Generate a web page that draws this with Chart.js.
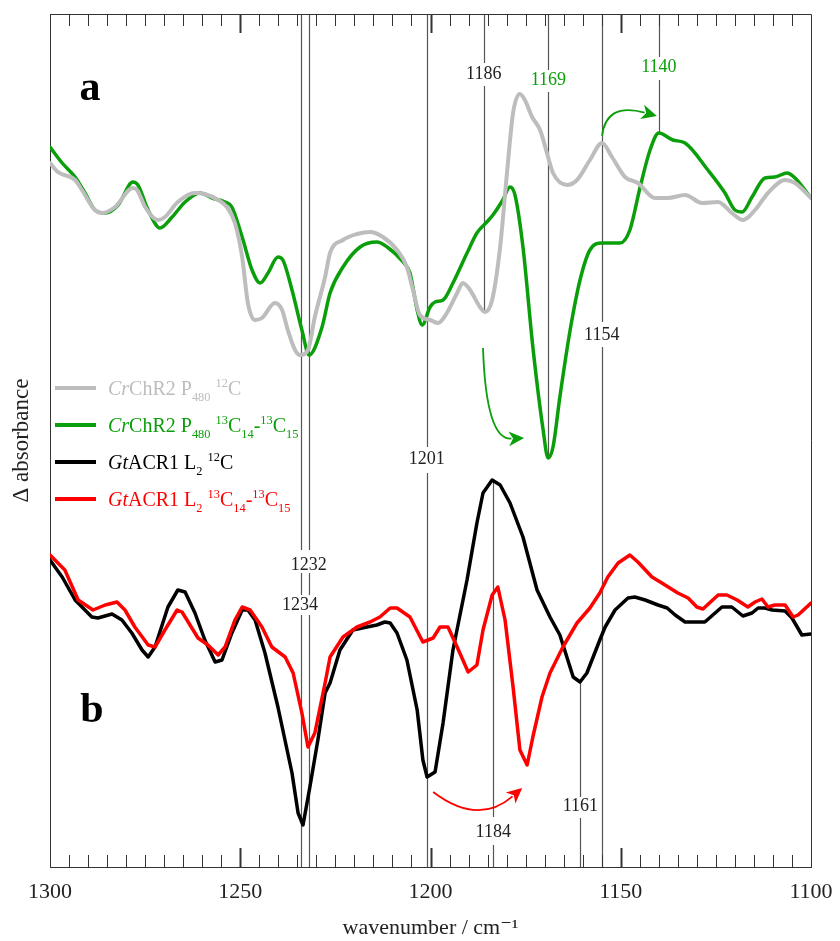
<!DOCTYPE html>
<html>
<head>
<meta charset="utf-8">
<script src="https://cdn.jsdelivr.net/npm/chart.js@4.4.1/dist/chart.umd.min.js"></script>
<style>
  html, body { margin: 0; padding: 0; background: #fff; }
</style>
</head>
<body>
<canvas id="espectro" width="840" height="941"></canvas>
<script>
// Espectros (número de onda en cm-1, absorbancia en unidades arbitrarias)
const grisWn = [1300,1297.9,1293.4,1291.6,1288.2,1286.3,1282.9,1278.2,1277.1,1275.0,1271.6,1269.8,1266.4,1261.9,1259.3,1255.8,1253.5,1251.4,1249.5,1248.0,1246.1,1244.3,1240.9,1239.0,1237.5,1235.6,1234.3,1232.2,1230.4,1227.7,1226.4,1223.0,1219.3,1215.9,1212.5,1208.8,1206.2,1204.6,1202.8,1200.1,1198.0,1195.7,1193.0,1191.5,1189.6,1187.0,1185.7,1183.8,1181.7,1179.9,1178.3,1176.5,1175.2,1173.3,1171.2,1169.4,1167.8,1164.1,1161.5,1158.1,1154.9,1152.3,1148.9,1145.5,1141.0,1137.6,1133.1,1128.6,1124.4,1120.8,1117.9,1114.7,1111.3,1106.8,1104.2,1100];
const grisAbs = [70.4,69.5,68.7,67.7,65.7,65.4,66.0,67.9,67.7,66.0,64.7,65.0,66.5,67.4,67.3,66.7,66.0,64.4,61.0,56.4,54.7,54.9,56.4,55.7,53.7,51.7,51.2,51.7,55.0,59.0,61.4,62.7,63.3,63.5,63.0,61.7,60.0,57.7,55.2,54.7,54.4,55.4,57.4,58.4,57.7,56.0,55.5,56.7,62.0,69.4,75.4,77.3,76.7,75.0,73.7,71.4,69.4,68.2,68.7,70.7,72.4,71.0,69.0,68.4,66.9,66.9,67.2,66.4,66.5,65.4,64.7,65.7,67.4,68.7,68.4,66.9];

const verdeWn = [1300,1296.8,1293.4,1290.8,1288.2,1285.5,1282.1,1278.2,1276.9,1274.2,1271.1,1267.9,1264.5,1260.6,1257.4,1254.0,1252.2,1249.5,1246.9,1244.8,1242.7,1240.1,1238.8,1236.4,1233.8,1231.9,1228.5,1226.4,1223.0,1218.5,1214.1,1211.4,1207.2,1205.4,1203.5,1202.2,1200.1,1198.8,1196.7,1194.1,1190.4,1187.8,1185.2,1183.6,1181.0,1179.1,1177.8,1175.7,1173.1,1170.4,1169.1,1167.8,1166.0,1163.3,1160.7,1158.1,1154.9,1150.2,1147.6,1144.9,1142.3,1140.0,1136.3,1133.1,1127.1,1122.6,1120.0,1118.1,1115.5,1112.1,1109.5,1106.3,1104.2,1100];
const verdeAbs = [72.0,70.4,69.0,67.4,65.7,65.4,66.2,68.5,68.2,65.7,63.9,65.0,66.5,67.4,66.9,66.5,66.0,63.0,59.7,58.4,59.4,61.0,60.7,57.7,53.7,51.2,54.0,57.4,60.0,62.0,62.5,62.0,60.5,59.4,55.7,54.2,56.0,56.5,56.7,58.4,61.4,63.4,64.5,65.2,66.7,68.0,67.2,62.0,52.0,43.7,40.9,42.0,47.0,53.7,58.7,61.7,62.4,62.4,63.7,68.0,71.7,73.4,72.7,72.4,69.7,67.4,65.7,65.5,67.0,68.9,69.0,69.4,68.9,66.9];

const negroWn = [1300,1296.8,1293.4,1289.0,1287.4,1283.7,1281.1,1278.5,1275.8,1274.2,1272.4,1269.0,1266.4,1264.5,1261.9,1259.3,1256.6,1254.8,1252.2,1249.5,1248.0,1246.1,1243.5,1240.1,1236.4,1234.8,1233.5,1231.7,1229.6,1227.7,1226.4,1223.8,1220.4,1216.7,1214.1,1212.0,1210.6,1208.8,1206.2,1203.5,1202.0,1200.9,1198.8,1196.7,1194.1,1190.4,1187.8,1186.2,1183.8,1181.7,1179.1,1175.7,1172.0,1168.6,1166.0,1162.5,1160.7,1158.9,1155.5,1154.1,1151.5,1148.1,1146.3,1143.6,1140.2,1137.8,1135.7,1133.1,1127.9,1123.4,1120.8,1117.9,1115.5,1113.9,1112.1,1110.2,1106.8,1105.0,1102.4,1100];
const negroAbs = [30.7,29.0,26.7,25.0,24.9,25.3,24.7,23.4,21.7,21.0,22.0,26.0,27.7,27.5,25.4,22.7,20.5,20.7,23.4,25.7,25.7,24.7,21.4,16.0,9.4,5.4,4.2,8.0,12.7,17.4,18.4,21.7,23.7,24.0,24.2,24.5,24.4,23.4,20.7,15.7,10.7,9.0,9.5,14.4,21.7,28.7,34.4,37.4,38.7,38.2,36.4,33.0,27.7,25.0,23.2,19.0,18.5,19.4,22.7,24.0,25.7,26.9,27.0,26.7,26.2,25.9,25.2,24.5,24.5,26.0,26.0,25.1,25.4,25.9,25.9,25.7,25.6,24.9,23.2,23.3];

const rojoWn = [1300,1296.1,1292.6,1288.7,1285.5,1282.4,1280.3,1277.7,1274.2,1272.4,1269.8,1266.6,1265.3,1261.1,1258.5,1255.8,1254.0,1251.4,1249.5,1247.4,1244.3,1241.7,1238.2,1236.1,1233.8,1232.2,1230.4,1227.7,1226.4,1223.0,1219.3,1215.9,1213.3,1210.6,1208.8,1205.4,1202.0,1199.3,1197.5,1195.4,1193.0,1190.1,1187.8,1186.2,1183.8,1182.3,1180.4,1178.3,1176.5,1174.6,1173.1,1170.7,1168.6,1165.2,1161.5,1158.1,1155.5,1153.4,1150.7,1147.6,1145.5,1141.8,1139.2,1135.0,1132.3,1130.0,1128.4,1124.4,1122.1,1119.4,1116.6,1114.7,1112.9,1111.3,1109.5,1106.8,1104.7,1103.4,1100];
const rojoAbs = [31.2,29.7,26.7,25.7,26.2,26.5,25.7,24.0,22.2,22.0,23.7,25.7,25.5,22.9,22.2,21.2,22.0,24.7,26.0,25.7,24.0,22.0,21.0,19.4,15.4,12.0,13.4,18.4,21.0,23.0,24.0,24.5,25.0,25.9,25.9,25.0,22.5,22.9,24.0,24.0,22.0,19.5,20.2,23.7,27.2,28.0,24.7,18.0,11.7,10.2,13.0,17.0,19.4,22.0,24.4,25.9,27.4,29.0,30.4,31.2,30.5,29.0,28.4,27.4,26.9,26.0,25.8,27.2,27.2,26.7,26.0,26.5,26.8,26.0,26.2,26.2,25.0,25.2,26.4];

// Líneas verticales de referencia: posición y tramos (desde, hasta) en absorbancia
const marcaWn = [1234, 1232, 1201, 1186, 1169, 1140, 1155, 1183.5, 1160.6];
const marcaTramos = [
  [[85.3, 31.7], [29.4, 27.2], [25.2, 0]],
  [[85.3, 31.7], [29.4, 27.2], [25.2, 0]],
  [[85.3, 42.0], [39.4, 0]],
  [[85.3, 80.4], [78.1, 55.5]],
  [[85.3, 79.7], [77.5, 40.9]],
  [[85.3, 81.0], [78.7, 73.4]],
  [[85.3, 54.5], [52.0, 0]],
  [[38.7, 5.0], [2.2, 0]],
  [[18.5, 7.0], [4.9, 0]]
];

// Etiquetas de picos
const etiquetaTexto = ['1186', '1169', '1140', '1154', '1201', '1232', '1234', '1184', '1161'];
const etiquetaWn = [1186, 1169, 1140, 1155, 1201, 1232, 1234.3, 1183.5, 1160.6];
const etiquetaAbs = [79.3, 78.7, 80.0, 53.2, 40.8, 30.2, 26.2, 3.5, 6.1];
const etiquetaColor = ['#222', '#0a9f0a', '#0a9f0a', '#222', '#222', '#222', '#222', '#222', '#222'];

// Flechas: inicio, control, punta (número de onda, absorbancia)
const flechas = [
  { color: '#0a9f0a', puntos: [[1186.2, 51.9], [1185.4, 42.7], [1175.4, 42.9]] },
  { color: '#0a9f0a', puntos: [[1154.9, 73.1], [1153.9, 76.5], [1140.5, 75.1]] },
  { color: '#ff0000', puntos: [[1199.3, 7.5], [1187.5, 4.1], [1175.9, 7.9]] }
];

const colores = { gris: '#bdbdbd', verde: '#0a9f0a', negro: '#000000', rojo: '#ff0000' };
const fuente = "'Liberation Serif', 'DejaVu Serif', serif";

function puntos(wn, abs) {
  return wn.map((w, i) => ({ x: w, y: abs[i] }));
}

// Texto con cursiva, subíndices y superíndices
function textoRico(ctx, x, y, partes, color, tam) {
  ctx.fillStyle = color;
  ctx.textAlign = 'left';
  ctx.textBaseline = 'alphabetic';
  let cx = x;
  partes.forEach(([t, estilo]) => {
    let size = tam, dy = 0, it = '';
    if (estilo === 'i') it = 'italic ';
    if (estilo === 'sub') { size = tam * 0.62; dy = tam * 0.3; }
    if (estilo === 'sup') { size = tam * 0.62; dy = -tam * 0.38; }
    ctx.font = it + size + 'px ' + fuente;
    ctx.fillText(t, cx, y + dy);
    cx += ctx.measureText(t).width;
  });
}

const leyenda = [
  { color: '#bdbdbd', partes: [['Cr', 'i'], ['ChR2 P', 'n'], ['480', 'sub'], [' ', 'n'], ['12', 'sup'], ['C', 'n']] },
  { color: '#0a9f0a', partes: [['Cr', 'i'], ['ChR2 P', 'n'], ['480', 'sub'], [' ', 'n'], ['13', 'sup'], ['C', 'n'], ['14', 'sub'], ['-', 'n'], ['13', 'sup'], ['C', 'n'], ['15', 'sub']] },
  { color: '#000000', partes: [['Gt', 'i'], ['ACR1 L', 'n'], ['2', 'sub'], [' ', 'n'], ['12', 'sup'], ['C', 'n']] },
  { color: '#ff0000', partes: [['Gt', 'i'], ['ACR1 L', 'n'], ['2', 'sub'], [' ', 'n'], ['13', 'sup'], ['C', 'n'], ['14', 'sub'], ['-', 'n'], ['13', 'sup'], ['C', 'n'], ['15', 'sub']] }
];

const anotaciones = {
  id: 'anotaciones',
  beforeDatasetsDraw(chart) {
    const ctx = chart.ctx, xs = chart.scales.x, ys = chart.scales.y;
    ctx.save();
    ctx.strokeStyle = '#555';
    ctx.lineWidth = 1.2;
    marcaWn.forEach((w, i) => {
      const px = Math.round(xs.getPixelForValue(w)) + 0.5;
      marcaTramos[i].forEach(([a, b]) => {
        ctx.beginPath();
        ctx.moveTo(px, ys.getPixelForValue(a));
        ctx.lineTo(px, ys.getPixelForValue(b));
        ctx.stroke();
      });
    });
    ctx.restore();
  },
  afterDraw(chart) {
    const ctx = chart.ctx, xs = chart.scales.x, ys = chart.scales.y;
    const area = chart.chartArea;
    ctx.save();

    // marco superior y derecho
    ctx.strokeStyle = '#333';
    ctx.lineWidth = 1;
    ctx.beginPath();
    ctx.moveTo(area.left, area.top + 0.5);
    ctx.lineTo(area.right + 0.5, area.top + 0.5);
    ctx.lineTo(area.right + 0.5, area.bottom);
    ctx.stroke();

    // marcas hacia dentro, arriba y abajo
    for (let w = 1105; w < 1300; w += 5) {
      const px = Math.round(xs.getPixelForValue(w)) + 0.5;
      const mayor = w % 50 === 0;
      const largo = mayor ? 19 : 12;
      ctx.lineWidth = mayor ? 2 : 1;
      ctx.beginPath();
      ctx.moveTo(px, area.bottom);
      ctx.lineTo(px, area.bottom - largo);
      ctx.moveTo(px, area.top);
      ctx.lineTo(px, area.top + largo);
      ctx.stroke();
    }

    // etiquetas de picos
    ctx.font = '18px ' + fuente;
    ctx.textAlign = 'center';
    ctx.textBaseline = 'middle';
    etiquetaTexto.forEach((t, i) => {
      ctx.fillStyle = etiquetaColor[i];
      ctx.fillText(t, xs.getPixelForValue(etiquetaWn[i]), ys.getPixelForValue(etiquetaAbs[i]));
    });

    // flechas
    flechas.forEach(f => {
      const [p0, pc, p1] = f.puntos.map(([w, a]) => [xs.getPixelForValue(w), ys.getPixelForValue(a)]);
      const ang = Math.atan2(p1[1] - pc[1], p1[0] - pc[0]);
      const lg = 17;
      const base = [p1[0] - Math.cos(ang) * lg * 0.75, p1[1] - Math.sin(ang) * lg * 0.75];
      ctx.strokeStyle = f.color;
      ctx.fillStyle = f.color;
      ctx.lineWidth = 1.8;
      ctx.beginPath();
      ctx.moveTo(p0[0], p0[1]);
      ctx.quadraticCurveTo(pc[0], pc[1], base[0], base[1]);
      ctx.stroke();
      ctx.beginPath();
      ctx.moveTo(p1[0], p1[1]);
      ctx.lineTo(p1[0] - Math.cos(ang - 0.45) * lg, p1[1] - Math.sin(ang - 0.45) * lg);
      ctx.lineTo(p1[0] - Math.cos(ang) * lg * 0.65, p1[1] - Math.sin(ang) * lg * 0.65);
      ctx.lineTo(p1[0] - Math.cos(ang + 0.45) * lg, p1[1] - Math.sin(ang + 0.45) * lg);
      ctx.closePath();
      ctx.fill();
    });

    // letras de panel
    ctx.fillStyle = '#000';
    ctx.font = 'bold 42px ' + fuente;
    ctx.textAlign = 'center';
    ctx.textBaseline = 'alphabetic';
    ctx.fillText('a', area.left + 40, area.top + 86);
    ctx.fillText('b', area.left + 42, area.top + 708);

    // leyenda
    leyenda.forEach((item, i) => {
      const y = area.top + 374 + i * 37;
      ctx.strokeStyle = item.color;
      ctx.lineWidth = 4;
      ctx.beginPath();
      ctx.moveTo(area.left + 5, y);
      ctx.lineTo(area.left + 46, y);
      ctx.stroke();
      textoRico(ctx, area.left + 58, y + 7, item.partes, item.color, 20);
    });

    ctx.restore();
  }
};

const ctx = document.getElementById('espectro').getContext('2d');
const grafico = new Chart(ctx, {
  type: 'line',
  data: {
    datasets: [
      { label: 'CrChR2 P480 12C', data: puntos(grisWn, grisAbs), borderColor: colores.gris, borderWidth: 4, cubicInterpolationMode: 'monotone' },
      { label: 'CrChR2 P480 13C14-13C15', data: puntos(verdeWn, verdeAbs), borderColor: colores.verde, borderWidth: 3.5, cubicInterpolationMode: 'monotone' },
      { label: 'GtACR1 L2 13C14-13C15', data: puntos(rojoWn, rojoAbs), borderColor: colores.rojo, borderWidth: 3.5, tension: 0 },
      { label: 'GtACR1 L2 12C', data: puntos(negroWn, negroAbs), borderColor: colores.negro, borderWidth: 3.5, tension: 0 }
    ]
  },
  options: {
    responsive: false,
    animation: false,
    devicePixelRatio: 1,
    layout: { padding: { top: 14, right: 29, left: 0, bottom: 0 } },
    elements: { point: { radius: 0 }, line: { borderJoinStyle: 'round', borderCapStyle: 'round' } },
    plugins: { legend: { display: false }, tooltip: { enabled: false } },
    scales: {
      x: {
        type: 'linear',
        reverse: true,
        min: 1100,
        max: 1300,
        afterFit(scale) {
          scale.height = 74;
          scale.paddingLeft = 0;
          scale.paddingRight = 0;
        },
        grid: { display: false, drawTicks: false },
        border: { display: true, color: '#333', width: 1 },
        ticks: { stepSize: 50, padding: 12, color: '#222', font: { family: fuente, size: 22 }, callback: v => String(v) },
        title: { display: true, text: 'wavenumber / cm⁻¹', color: '#222', font: { family: fuente, size: 22 }, padding: { top: 4, bottom: 0 } }
      },
      y: {
        min: 0,
        max: 85.3,
        afterFit(scale) { scale.width = 50; },
        grid: { display: false, drawTicks: false },
        border: { display: true, color: '#333', width: 1 },
        ticks: { display: false },
        title: { display: true, text: 'Δ absorbance', color: '#222', font: { family: fuente, size: 23 }, padding: { top: 8, bottom: 0 } }
      }
    }
  },
  plugins: [anotaciones]
});
</script>
</body>
</html>
